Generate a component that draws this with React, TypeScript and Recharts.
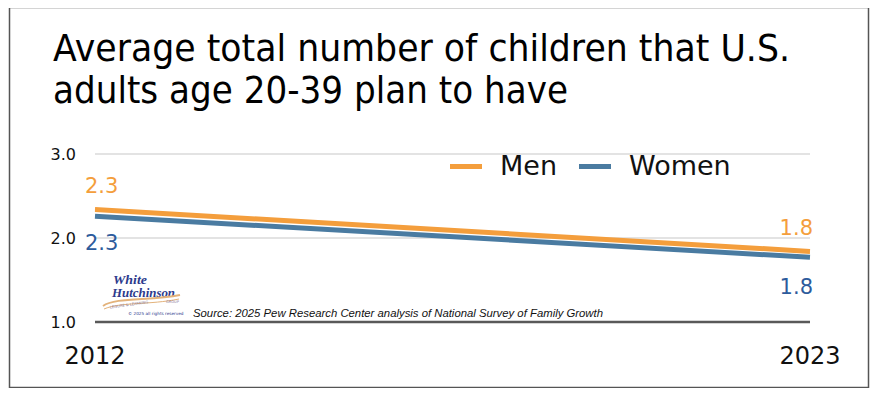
import { CartesianGrid, LabelList, Legend, Line, LineChart, XAxis, YAxis } from "recharts";

// Planned number of children, U.S. adults 20-39 (Pew / NSFG)
const years = [2012, 2023];
const menValues = [2.34, 1.84];
const womenValues = [2.26, 1.77];
const yTicks = [1, 2, 3];
const titleLines = [
  "Average total number of children that U.S.",
  "adults age 20-39 plan to have",
];
const sourceText =
  "Source: 2025  Pew Research Center analysis of National Survey of Family Growth";

const MEN = "#F49E3C";
const WOMEN = "#4A7BA1";
const WOMEN_TEXT = "#2D5B9C";
const FONT = "'DejaVu Sans', sans-serif";

const data = years.map((year, i) => ({
  year,
  men: menValues[i],
  women: womenValues[i],
}));

// end labels sit above (men) or below (women) the line, inset at each end
const makeLabel = (color: string, above: boolean) => (props: any) => {
  const { x, y, value, index } = props;
  const first = index === 0;
  const dy = above ? -24 : first ? 26 : 29;
  return (
    <text
      x={first ? x - 10 : x + 3}
      y={y + dy}
      dy="0.36em"
      textAnchor={first ? "start" : "end"}
      fill={color}
      fontSize={21}
      fontFamily={FONT}
    >
      {Number(value).toFixed(1)}
    </text>
  );
};

const LegendContent = (props: any) => {
  const items = props.payload || [];
  return (
    <div style={{ display: "flex", alignItems: "center", fontFamily: FONT }}>
      {items.map((p: any) => (
        <div
          key={p.value}
          style={{ display: "flex", alignItems: "center", marginRight: 22 }}
        >
          <span
            style={{
              width: 32,
              height: 5,
              background: p.color,
              marginRight: 18,
              display: "inline-block",
            }}
          />
          <span style={{ fontSize: 27, lineHeight: "30px", color: "#111" }}>
            {p.value}
          </span>
        </div>
      ))}
    </div>
  );
};

export default function App() {
  return (
    <div
      style={{
        position: "relative",
        width: 880,
        height: 396,
        margin: -8,
        background: "#fff",
      }}
    >
      <LineChart
        width={880}
        height={396}
        data={data}
        margin={{ top: 154, right: 70, bottom: 34, left: 55 }}
      >
        <CartesianGrid vertical={false} stroke="#dadada" strokeWidth={1.5} />
        <XAxis
          dataKey="year"
          type="number"
          domain={[2012, 2023]}
          ticks={years}
          height={40}
          tickLine={false}
          tickSize={0}
          tickMargin={25}
          axisLine={{ stroke: "#595959", strokeWidth: 2.5 }}
          tick={{ fontSize: 24, fill: "#111", fontFamily: FONT }}
        />
        <YAxis
          width={40}
          domain={[1, 3]}
          ticks={yTicks}
          axisLine={false}
          tickLine={false}
          tickSize={0}
          tickMargin={19}
          tickFormatter={(v: number) => v.toFixed(1)}
          tick={{ fontSize: 16, fill: "#111", fontFamily: FONT }}
        />
        <Legend
          layout="horizontal"
          verticalAlign="middle"
          align="center"
          wrapperStyle={{ left: 450, top: 151, width: 340 }}
          content={LegendContent}
        />
        <Line
          dataKey="women"
          name="Women"
          stroke={WOMEN}
          strokeWidth={5}
          dot={false}
          legendType="line"
          isAnimationActive={false}
        >
          <LabelList dataKey="women" content={makeLabel(WOMEN_TEXT, false)} />
        </Line>
        <Line
          dataKey="men"
          name="Men"
          stroke={MEN}
          strokeWidth={5}
          dot={false}
          legendType="line"
          isAnimationActive={false}
        >
          <LabelList dataKey="men" content={makeLabel(MEN, true)} />
        </Line>
      </LineChart>

      <svg
        width={880}
        height={396}
        style={{ position: "absolute", left: 0, top: 0, pointerEvents: "none" }}
      >
        <rect x={9.5} y={7.5} width={859} height={380} fill="none" stroke="#555" strokeWidth={1.5} />
        <text
          x={53}
          y={61}
          fontSize={38}
          fontFamily={FONT}
          fill="#000"
          textLength={737}
          lengthAdjust="spacingAndGlyphs"
        >
          {titleLines[0]}
        </text>
        <text
          x={53}
          y={103}
          fontSize={38}
          fontFamily={FONT}
          fill="#000"
          textLength={515}
          lengthAdjust="spacingAndGlyphs"
        >
          {titleLines[1]}
        </text>

        {/* logo */}
        <text x={113} y={283.5} fontSize={12} fontWeight="bold" fontStyle="italic" fontFamily="'Liberation Serif', serif" fill="#2C3A8C" textLength={34} lengthAdjust="spacingAndGlyphs">
          White
        </text>
        <text x={112} y={297} fontSize={12} fontWeight="bold" fontStyle="italic" fontFamily="'Liberation Serif', serif" fill="#2C3A8C" textLength={63} lengthAdjust="spacingAndGlyphs">
          Hutchinson
        </text>
        <path d="M103 306 C 115 297, 150 301, 180 295" fill="none" stroke="#E3B27A" strokeWidth={2} />
        <path d="M104 309 C 120 302, 150 305, 179 299" fill="none" stroke="#E3B27A" strokeWidth={1} />
        <text x={110} y={308.5} fontSize={3.6} fill="#8A7A9A" fontFamily={FONT} transform="rotate(-8 110 308.5)">
          LEISURE &amp; LEARNING
        </text>
        <text x={166} y={303} fontSize={3.6} fill="#8A7A9A" fontFamily={FONT}>
          GROUP
        </text>
        <text x={128} y={314.5} fontSize={4.2} fill="#2C3A8C" fontFamily={FONT}>
          © 2025 all rights reserved
        </text>

        <text
          x={193}
          y={316.5}
          fontSize={11.5}
          fontStyle="italic"
          fontFamily="'Liberation Sans', Arial, sans-serif"
          fill="#111"
          textLength={410}
          lengthAdjust="spacingAndGlyphs"
        >
          {sourceText}
        </text>
      </svg>
    </div>
  );
}
